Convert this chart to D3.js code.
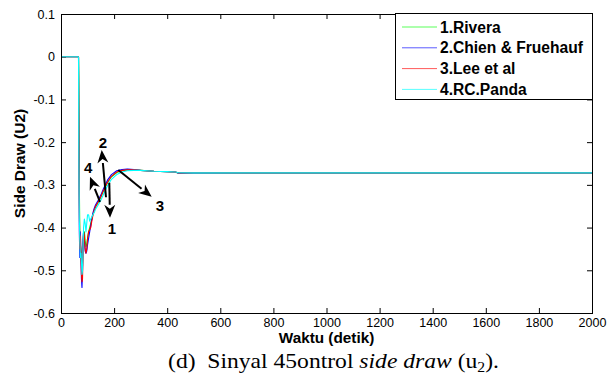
<!DOCTYPE html>
<html>
<head>
<meta charset="utf-8">
<script src="https://cdn.jsdelivr.net/npm/d3@7"></script>
<style>
  html, body { margin: 0; padding: 0; background: #fff; }
  svg { display: block; font-family: "Liberation Sans", Arial, sans-serif; }
</style>
</head>
<body>
<svg id="chart" width="609" height="379"></svg>
<script>
// shared time grid (detik)
const times = [0, 66, 67, 69, 71, 73, 75, 77, 79, 81, 83, 85, 88, 91, 94, 97, 100, 104, 108, 112, 116, 120, 125,
  130, 140, 150, 160, 175, 190, 210, 230, 250, 275, 300, 350, 400, 430, 440, 500, 700, 1000, 1500, 2000];

const rivera = [0, 0, -0.05, -0.30, -0.42, -0.44, -0.45, -0.48, -0.50, -0.49, -0.44, -0.41, -0.41, -0.43, -0.445, -0.44, -0.425, -0.41, -0.40, -0.39, -0.38, -0.37, -0.36,
  -0.352, -0.341, -0.329, -0.314, -0.295, -0.281, -0.271, -0.267, -0.265, -0.265, -0.266, -0.268, -0.269, -0.270, -0.272, -0.272, -0.272, -0.272, -0.272, -0.272];
const chien = [0, 0, -0.17, -0.41, -0.47, -0.41, -0.46, -0.52, -0.54, -0.50, -0.43, -0.41, -0.43, -0.455, -0.46, -0.455, -0.44, -0.425, -0.41, -0.395, -0.38, -0.366, -0.355,
  -0.347, -0.336, -0.324, -0.309, -0.289, -0.276, -0.267, -0.264, -0.263, -0.264, -0.266, -0.268, -0.269, -0.270, -0.272, -0.272, -0.272, -0.272, -0.272, -0.272];
const lee = [0, 0, -0.12, -0.35, -0.45, -0.42, -0.47, -0.51, -0.527, -0.52, -0.46, -0.41, -0.42, -0.45, -0.46, -0.45, -0.425, -0.41, -0.405, -0.40, -0.385, -0.372, -0.36,
  -0.351, -0.340, -0.328, -0.313, -0.294, -0.280, -0.270, -0.266, -0.265, -0.265, -0.266, -0.268, -0.269, -0.270, -0.2715, -0.2715, -0.272, -0.272, -0.272, -0.272];
const panda = [0, 0, -0.20, -0.38, -0.43, -0.47, -0.46, -0.48, -0.51, -0.50, -0.45, -0.40, -0.38, -0.39, -0.41, -0.39, -0.37, -0.37, -0.385, -0.38, -0.375, -0.37, -0.365,
  -0.357, -0.347, -0.336, -0.322, -0.302, -0.287, -0.276, -0.270, -0.267, -0.266, -0.266, -0.268, -0.269, -0.270, -0.271, -0.272, -0.272, -0.272, -0.272, -0.272];

const seriesNames = ['1.Rivera', '2.Chien & Fruehauf', '3.Lee et al', '4.RC.Panda'];
const seriesColors = ['#00ff00', '#0000ff', '#ff0000', '#00ffff'];
const seriesValues = [rivera, chien, lee, panda];

const xTicks = [0, 200, 400, 600, 800, 1000, 1200, 1400, 1600, 1800, 2000];
const yTicks = [0.1, 0, -0.1, -0.2, -0.3, -0.4, -0.5, -0.6];

// arrows in data units: tail, tip, label centre
const arrowLabels = ['1', '2', '3', '4'];
const arrowTail = [[181.9, -0.295], [169.5, -0.329], [215.8, -0.2653], [146.9, -0.3396]];
const arrowTip = [[184.6, -0.377], [153.3, -0.2185], [341.6, -0.328], [109.2, -0.281]];
const arrowLabelPos = [[192, -0.403], [158, -0.202], [373, -0.348], [102, -0.26]];

const M = { left: 61, right: 17, top: 14, bottom: 66 };
const W = 609, H = 379;
const iw = W - M.left - M.right;
const ih = H - M.top - M.bottom;

const svg = d3.select('#chart');
const g = svg.append('g').attr('transform', `translate(${M.left},${M.top})`);

const x = d3.scaleLinear().domain([0, 2000]).range([0, iw]);
const y = d3.scaleLinear().domain([-0.6, 0.1]).range([ih, 0]);

const fmtY = (d) => (Math.abs(d) < 1e-9 ? '0' : String(+d.toFixed(1)));

// axes, ticks pointing inward on all four sides
g.append('g').attr('transform', `translate(0,${ih})`)
  .call(d3.axisBottom(x).tickValues(xTicks).tickSizeInner(-5).tickSizeOuter(0).tickPadding(5).tickFormat(d3.format('d')));
g.append('g')
  .call(d3.axisLeft(y).tickValues(yTicks).tickSizeInner(-5).tickSizeOuter(0).tickPadding(6).tickFormat(fmtY));
g.append('g').call(d3.axisTop(x).tickValues(xTicks).tickSizeInner(-5).tickSizeOuter(0).tickFormat(''));
g.append('g').attr('transform', `translate(${iw},0)`)
  .call(d3.axisRight(y).tickValues(yTicks).tickSizeInner(-5).tickSizeOuter(0).tickFormat(''));

g.selectAll('.domain').remove();
g.selectAll('.tick line').attr('stroke', '#000');
g.selectAll('.tick text').attr('fill', '#000').style('font-size', '12.5px');

// series
const line = d3.line()
  .x((d) => x(d[0]))
  .y((d) => y(d[1]));

seriesValues.forEach((vals, i) => {
  g.append('path')
    .datum(times.map((t, k) => [t, vals[k]]))
    .attr('fill', 'none')
    .attr('stroke', seriesColors[i])
    .attr('stroke-width', 1.1)
    .attr('stroke-linejoin', 'round')
    .attr('d', line);
});

// frame
g.append('rect').attr('x', 0.5).attr('y', 0.5).attr('width', iw).attr('height', ih)
  .attr('fill', 'none').attr('stroke', '#000').attr('stroke-width', 1);

// arrows
arrowLabels.forEach((lab, i) => {
  const x0 = x(arrowTail[i][0]), y0 = y(arrowTail[i][1]);
  const x1 = x(arrowTip[i][0]), y1 = y(arrowTip[i][1]);
  const ang = Math.atan2(y1 - y0, x1 - x0);
  const hl = 13, hw = 5.5;
  const bx = x1 - hl * Math.cos(ang), by = y1 - hl * Math.sin(ang);
  g.append('line')
    .attr('x1', x0).attr('y1', y0).attr('x2', bx).attr('y2', by)
    .attr('stroke', '#000').attr('stroke-width', 2);
  const px = -Math.sin(ang) * hw, py = Math.cos(ang) * hw;
  const nx = bx + hl * 0.3 * Math.cos(ang), ny = by + hl * 0.3 * Math.sin(ang);
  g.append('path')
    .attr('d', `M${x1},${y1}L${bx + px},${by + py}L${nx},${ny}L${bx - px},${by - py}Z`)
    .attr('fill', '#000');
  g.append('text')
    .attr('x', x(arrowLabelPos[i][0])).attr('y', y(arrowLabelPos[i][1]))
    .attr('text-anchor', 'middle').attr('dy', '0.36em')
    .style('font-size', '15px').style('font-weight', 'bold')
    .text(lab);
});

// legend
const lg = g.append('g').attr('transform', `translate(${iw - 197},0)`);
lg.append('rect').attr('x', 0.5).attr('y', -0.5).attr('width', 197).attr('height', 86)
  .attr('fill', '#fff').attr('stroke', '#000');
seriesNames.forEach((name, i) => {
  const cy = 13 + i * 20.8;
  lg.append('line').attr('x1', 7).attr('x2', 42).attr('y1', cy).attr('y2', cy)
    .attr('stroke', seriesColors[i]).attr('stroke-width', 1).attr('stroke-opacity', 0.65);
  lg.append('text').attr('x', 45).attr('y', cy).attr('dy', '0.36em')
    .style('font-size', '15.6px').style('font-weight', 'bold')
    .text(name);
});

// axis titles
svg.append('text')
  .attr('x', M.left + iw / 2).attr('y', 343)
  .attr('text-anchor', 'middle')
  .style('font-size', '15.3px').style('font-weight', 'bold')
  .text('Waktu (detik)');
svg.append('text')
  .attr('transform', `translate(25,${M.top + ih / 2}) rotate(-90)`)
  .attr('text-anchor', 'middle')
  .style('font-size', '15.5px').style('font-weight', 'bold')
  .text('Side Draw (U2)');

// caption, stretched sideways to the width it has in the figure
const capG = svg.append('g');
const cap = capG.append('text')
  .attr('x', 0).attr('y', 0)
  .attr('text-anchor', 'middle')
  .style('font-family', '"Liberation Serif", "Times New Roman", serif')
  .style('font-size', '21px');
cap.append('tspan').text('(d)\u00a0 Sinyal 45ontrol ');
cap.append('tspan').style('font-style', 'italic').text('side draw');
cap.append('tspan').text(' (u');
cap.append('tspan').attr('dy', 4).style('font-size', '14px').text('2');
cap.append('tspan').attr('dy', -4).text(').');
const capW = cap.node().getComputedTextLength();
capG.attr('transform', `translate(333.5,368) scale(${331 / capW},1)`);
</script>
</body>
</html>
